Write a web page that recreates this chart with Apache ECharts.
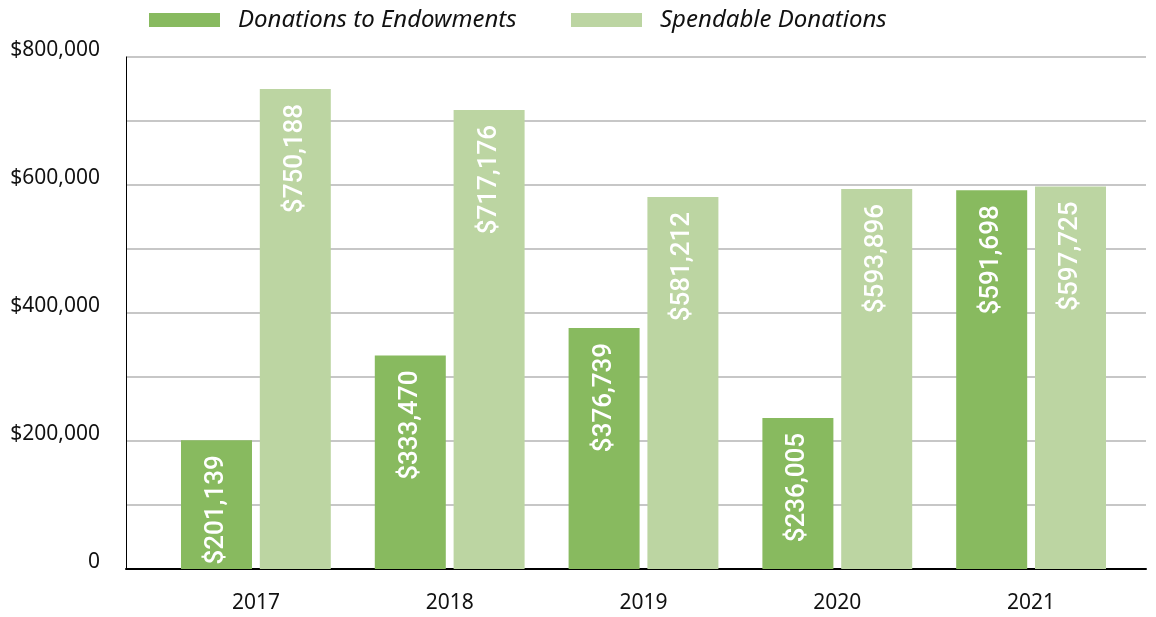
<!DOCTYPE html>
<html>
<head>
<meta charset="utf-8">
<script src="https://cdn.jsdelivr.net/npm/echarts@6/dist/echarts.min.js"></script>
<style>
html,body{margin:0;padding:0;background:#fff;}
#chart{width:1156px;height:617px;}
</style>
</head>
<body>
<div id="chart"></div>
<script>
var years = ['2017', '2018', '2019', '2020', '2021'];
var endowments = [201139, 333470, 376739, 236005, 591698];
var spendable = [750188, 717176, 581212, 593896, 597725];
var seriesNames = ['Donations to Endowments', 'Spendable Donations'];

function money(v){
	return '$' + v.toString().replace(/\B(?=(\d{3})+(?!\d))/g, ',');
}

var myChart = echarts.init(document.getElementById('chart'));
// white vertical labels inside the top of each bar
var labelOpt = {
	show: true,
	position: 'insideTop',
	rotate: 90,
	align: 'right',
	verticalAlign: 'middle',
	distance: 15,
	color: '#fff',
	fontWeight: 500,
	fontFamily: 'Roboto',
	fontSize: 26,
	formatter: function(p){ return money(p.value); }
};
var legendText = {fontFamily: 'Noto Sans', fontStyle: 'italic', fontSize: 24, color: '#111', padding: [0, 0, 0, 13]};
var option = {
	animation: false,
	legend: [
		{top: 8, left: 149, padding: 0, icon: 'rect', itemWidth: 71, itemHeight: 14, textStyle: legendText, data: [seriesNames[0]]},
		{top: 8, left: 571, padding: 0, icon: 'rect', itemWidth: 71, itemHeight: 14, textStyle: legendText, data: [seriesNames[1]]}
	],
	grid: [
		{left: 126, right: 10, top: 57, bottom: 48},
		{left: 159, right: 28, top: 57, bottom: 48}
	],
	xAxis: [
		{
			type: 'category', gridIndex: 0, data: years,
			axisLine: {lineStyle: {color: '#000', width: 2}},
			axisTick: {show: false},
			axisLabel: {show: false}
		},
		{
			type: 'category', gridIndex: 1, data: years,
			axisLine: {show: false},
			axisTick: {show: false},
			axisLabel: {margin: 24, fontFamily: 'Noto Sans', fontSize: 21, color: '#111'}
		}
	],
	yAxis: [
		{
			type: 'value', gridIndex: 0, min: 0, max: 800000, interval: 100000,
			axisLine: {show: true, lineStyle: {color: '#000', width: 1}},
			axisTick: {show: false},
			splitLine: {lineStyle: {color: '#b5b5b5', width: 1.5}},
			axisLabel: {
				margin: 26, fontFamily: 'Noto Sans', fontSize: 21, color: '#111',
				verticalAlign: 'bottom', lineHeight: 14,
				formatter: function(v){
					if (v % 200000 !== 0) return '';
					return v === 0 ? '0' : money(v);
				}
			}
		},
		{
			type: 'value', gridIndex: 1, min: 0, max: 800000, interval: 100000,
			show: false, splitLine: {show: false}
		}
	],
	series: [
		{
			name: seriesNames[0], type: 'bar', xAxisIndex: 1, yAxisIndex: 1,
			data: endowments, barWidth: 71, barGap: '11%',
			itemStyle: {color: '#88ba5f'},
			label: labelOpt
		},
		{
			name: seriesNames[1], type: 'bar', xAxisIndex: 1, yAxisIndex: 1,
			data: spendable, barWidth: 71, barGap: '11%',
			itemStyle: {color: '#bcd5a2'},
			label: labelOpt
		}
	]
};
myChart.setOption(option);
window.onresize = function(){ myChart.resize(); };
</script>
</body>
</html>
